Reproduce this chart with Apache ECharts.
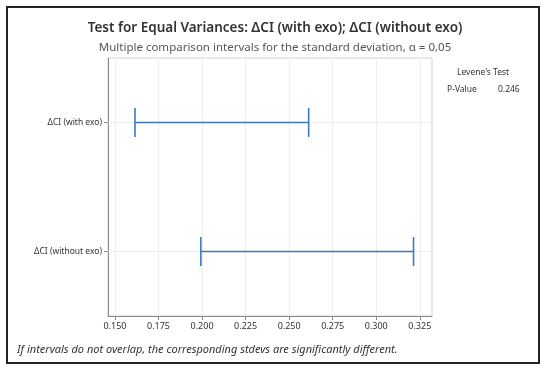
<!DOCTYPE html>
<html><head><meta charset="utf-8">
<script src="https://cdn.jsdelivr.net/npm/echarts@6/dist/echarts.min.js"></script>
<style>html,body{margin:0;padding:0;background:#fff}#c{width:550px;height:371px}</style>
</head><body><div id="c"></div>
<script>
const categories = ['ΔCI (with exo)', 'ΔCI (without exo)'];
const lowerBounds = [0.1615, 0.1993];
const upperBounds = [0.2612, 0.3214];
const xTicks = [0.150, 0.175, 0.200, 0.225, 0.250, 0.275, 0.300, 0.325];
const leveneP = '0.246';

const FONT = '"Noto Sans", "Open Sans", sans-serif';
const BLUE = '#3d79c2';
const chart = echarts.init(document.getElementById('c'), null, {renderer: 'canvas'});

const seriesData = categories.map((c, i) => [lowerBounds[i], upperBounds[i], i]);

chart.setOption({
  backgroundColor: '#fff',
  animation: false,
  title: [
    {text: 'Test for Equal Variances: ΔCI (with exo); ΔCI (without exo)', left: 'center', top: 16,
     textStyle: {fontFamily: FONT, fontSize: 13.5, fontWeight: 600, color: '#333'}},
    {text: 'Multiple comparison intervals for the standard deviation, α = 0,05', left: 'center', top: 37,
     textStyle: {fontFamily: FONT, fontSize: 11.5, fontWeight: 'normal', color: '#555'}}
  ],
  grid: {left: 108, right: 118, top: 58, bottom: 55, show: true, borderColor: '#d0d0d0', borderWidth: 1, backgroundColor: '#fff'},
  xAxis: {
    type: 'value', min: 0.146, max: 0.332,
    axisLine: {show: true, lineStyle: {color: '#8a8a8a'}},
    axisTick: {show: true, length: 4, inside: false, customValues: xTicks, lineStyle: {color: '#8a8a8a'}},
    axisLabel: {customValues: xTicks, formatter: v => v.toFixed(3), fontFamily: FONT, fontSize: 9, color: '#333', margin: 6},
    splitLine: {show: true, lineStyle: {color: '#eeeeee', width: 1}}
  },
  yAxis: {
    type: 'category', data: categories, inverse: true,
    axisLine: {show: true, lineStyle: {color: '#8a8a8a'}},
    axisTick: {show: true, alignWithLabel: true, length: 4, lineStyle: {color: '#8a8a8a'}},
    axisLabel: {fontFamily: FONT, fontSize: 8.5, color: '#333', margin: 6},
    splitLine: {show: false}
  },
  graphic: [
    {type: 'rect', shape: {x: 7, y: 7, width: 532, height: 356}, style: {fill: null, stroke: '#222', lineWidth: 2}, z: 100},
    {type: 'text', left: 457, top: 68, style: {text: "Levene's Test", fontFamily: FONT, fontSize: 8.5, fill: '#333'}},
    {type: 'text', left: 447, top: 85, style: {text: 'P-Value', fontFamily: FONT, fontSize: 8.5, fill: '#333'}},
    {type: 'text', left: 498, top: 85, style: {text: leveneP, fontFamily: FONT, fontSize: 8.5, fill: '#333'}},
    {type: 'text', left: 17, top: 344, style: {text: 'If intervals do not overlap, the corresponding stdevs are significantly different.', fontFamily: FONT, fontSize: 11, fontStyle: 'italic', fill: '#333'}}
  ],
  series: [{
    type: 'custom',
    coordinateSystem: 'cartesian2d',
    encode: {x: [0, 1], y: 2},
    data: seriesData,
    renderItem: function (params, api) {
      const cat = api.value(2);
      const p1 = api.coord([api.value(0), cat]);
      const p2 = api.coord([api.value(1), cat]);
      const band = api.size([0, 1])[1];
      const h = band * 0.112;
      const cs = params.coordSys;
      const style = {stroke: BLUE, lineWidth: 1.6};
      return {type: 'group', children: [
        {type: 'line', shape: {x1: cs.x, y1: p1[1], x2: cs.x + cs.width, y2: p1[1]}, style: {stroke: '#eeeeee', lineWidth: 1}, z2: 0},
        {type: 'line', shape: {x1: p1[0], y1: p1[1], x2: p2[0], y2: p2[1]}, style: style, z2: 5},
        {type: 'line', shape: {x1: p1[0], y1: p1[1] - h, x2: p1[0], y2: p1[1] + h}, style: style, z2: 5},
        {type: 'line', shape: {x1: p2[0], y1: p2[1] - h, x2: p2[0], y2: p2[1] + h}, style: style, z2: 5}
      ]};
    }
  }]
});
</script></body></html>
